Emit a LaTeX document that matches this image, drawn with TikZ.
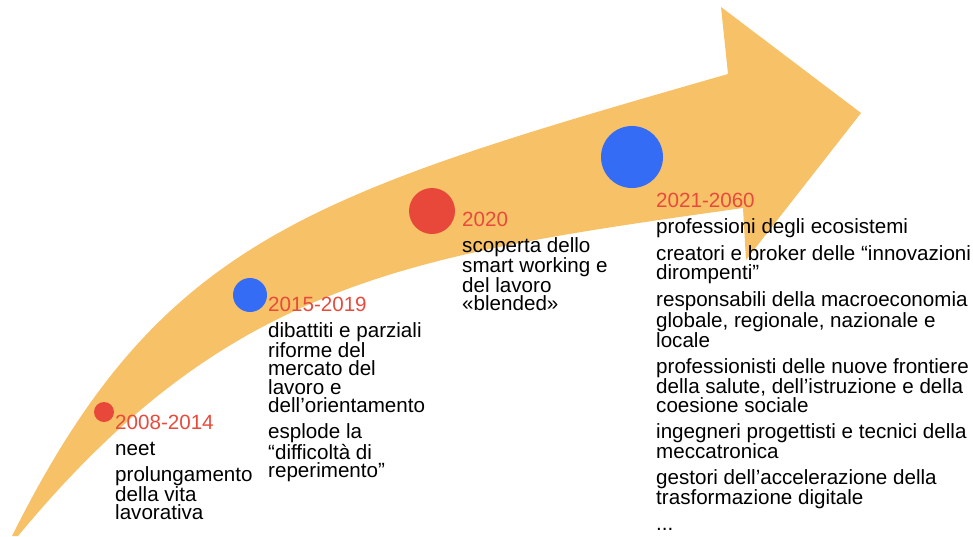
\documentclass[tikz,border=0pt]{standalone}
\usepackage{fontspec}
\setmainfont{Liberation Sans}
\definecolor{arroworange}{RGB}{246,193,103}
\definecolor{dotred}{RGB}{232,72,58}
\definecolor{dotblue}{RGB}{53,108,245}
\definecolor{txtred}{RGB}{232,74,60}
\begin{document}
\begin{tikzpicture}[x=1pt,y=-1pt,
  block/.style={anchor=north west,inner sep=0pt,align=left,
    font=\fontsize{20.6}{18.5}\selectfont,text=black}]
\useasboundingbox (0,0) rectangle (973,536);
% arrow body
\fill[arroworange]
  (12,536) .. controls (160,240) and (306,195) .. (728,74)
  -- (721,7) -- (861,113) -- (746,260) -- (743,208)
  .. controls (410,255) and (230,280) .. (18,536)
  -- cycle;
% dots
\fill[dotred] (104,412) circle (10);
\fill[dotblue] (250,295) circle (17);
\fill[dotred] (432,211) circle (23);
\fill[dotblue] (632,157) circle (31);
% texts
\node[block] (b1) at (115,414.5) {\textcolor{txtred}{2008-2014}\\[7.5pt]
neet\\[7.5pt]
prolungamento\\della vita\\lavorativa};
\node[block] (b2) at (268,296.5) {\textcolor{txtred}{2015-2019}\\[7.5pt]
dibattiti e parziali\\riforme del\\mercato del\\lavoro e\\dell’orientamento\\[7.5pt]
esplode la\\“difficoltà di\\reperimento”};
\node[block] (b3) at (462,211.5) {\textcolor{txtred}{2020}\\[7.5pt]
scoperta dello\\smart working e\\del lavoro\\«blended»};
\node[block] (b4) at (656,192.5) {\textcolor{txtred}{2021-2060}\\[7.5pt]
professioni degli ecosistemi\\[7.5pt]
creatori e broker delle “innovazioni\\dirompenti”\\[7.5pt]
responsabili della macroeconomia\\globale, regionale, nazionale e\\locale\\[7.5pt]
professionisti delle nuove frontiere\\della salute, dell’istruzione e della\\coesione sociale\\[7.5pt]
ingegneri progettisti e tecnici della\\meccatronica\\[7.5pt]
gestori dell’accelerazione della\\trasformazione digitale\\[7.5pt]
...};
\end{tikzpicture}
\end{document}
